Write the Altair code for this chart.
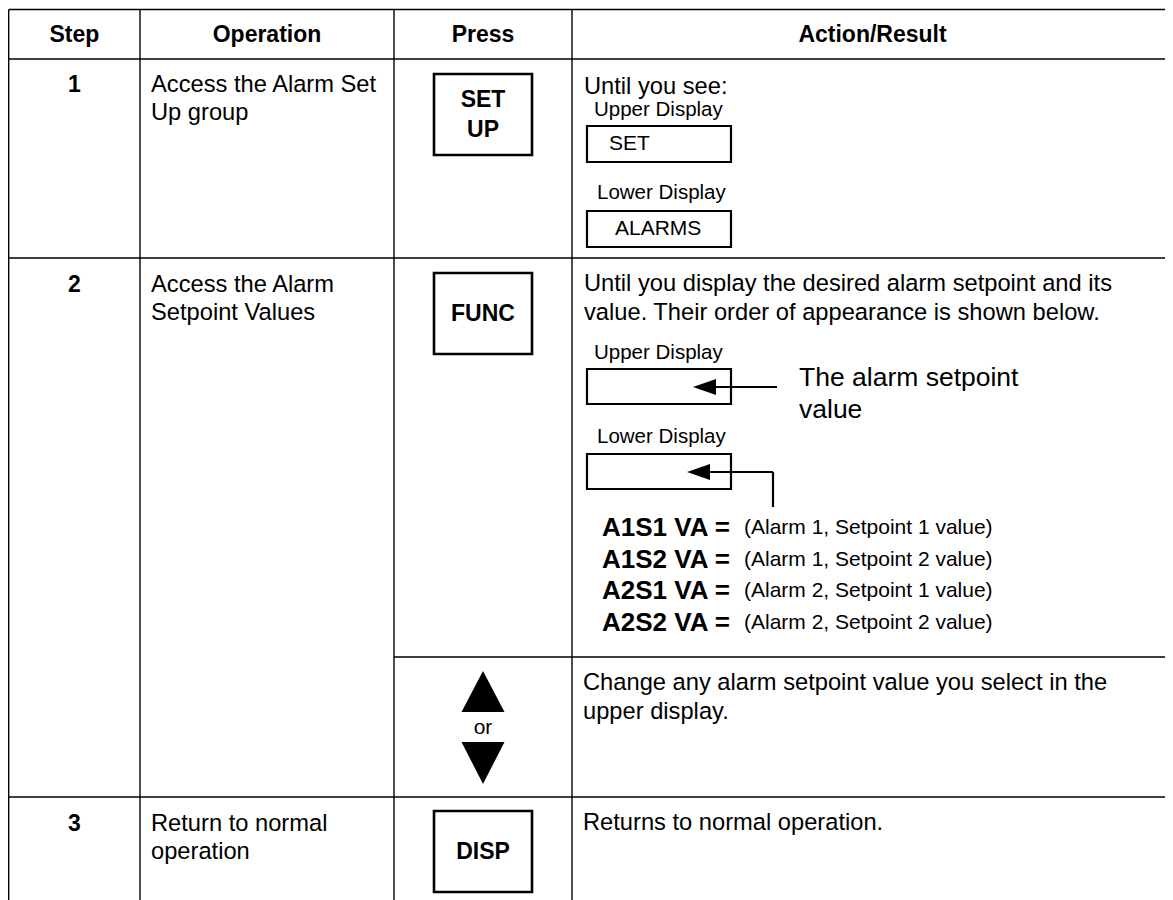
import altair as alt
import pandas as pd

# ---------------- content ----------------
HEADERS = ["Step", "Operation", "Press", "Action/Result"]
STEP_NUMBERS = ["1", "2", "3"]
OPERATIONS = [["Access the Alarm Set", "Up group"],
              ["Access the Alarm", "Setpoint Values"],
              ["Return to normal", "operation"]]
KEY_LABELS = [["SET", "UP"], ["FUNC"], ["DISP"]]
ROW1_ACTION = ["Until you see:"]
DISPLAY_LABELS = ["Upper Display", "Lower Display"]
ROW1_DISPLAY_VALUES = ["SET", "ALARMS"]
ROW2_ACTION = ["Until you display the desired alarm setpoint and its",
               "value. Their order of appearance is shown below."]
CALLOUT = ["The alarm setpoint", "value"]
ALARM_CODES = ["A1S1 VA =", "A1S2 VA =", "A2S1 VA =", "A2S2 VA ="]
ALARM_DESCRIPTIONS = ["(Alarm 1, Setpoint 1 value)", "(Alarm 1, Setpoint 2 value)",
                      "(Alarm 2, Setpoint 1 value)", "(Alarm 2, Setpoint 2 value)"]
ARROW_WORD = ["or"]
ROW2B_ACTION = ["Change any alarm setpoint value you select in the", "upper display."]
ROW3_ACTION = ["Returns to normal operation."]

# ---------------- layout (page pixels) ----------------
W, H = 1157, 892
LEFT, TOP = 8, 8
COL_EDGES = [8.7, 140, 394, 572, 1173]
ROW_EDGES = [9.5, 59, 258, 657, 797, 905]
FONT = "Liberation Sans"
BODY = 23.7

SX = alt.Scale(domain=[LEFT, LEFT + W], clamp=True, nice=False, zero=False)
SY = alt.Scale(domain=[TOP + H, TOP], clamp=True, nice=False, zero=False)


def enc_xy():
    return dict(x=alt.X("x:Q", scale=SX, axis=None), y=alt.Y("y:Q", scale=SY, axis=None))


def col_center(i):
    return (COL_EDGES[i] + COL_EDGES[i + 1]) / 2


# ---- table grid lines ----
lines = []
for y in [ROW_EDGES[0], ROW_EDGES[1], ROW_EDGES[2], ROW_EDGES[4]]:
    lines.append(dict(x=COL_EDGES[0], x2=COL_EDGES[4], y=y, y2=y))
lines.append(dict(x=COL_EDGES[2], x2=COL_EDGES[4], y=ROW_EDGES[3], y2=ROW_EDGES[3]))
for x in COL_EDGES[:4]:
    lines.append(dict(x=x, x2=x, y=ROW_EDGES[0], y2=ROW_EDGES[5]))
grid = alt.Chart(pd.DataFrame(lines)).mark_rule(color="black", strokeWidth=1.4).encode(
    **enc_xy(), x2="x2:Q", y2="y2:Q")

# ---- key buttons ----
kx0, kx1 = 434, 532
key_boxes = pd.DataFrame([
    dict(x=kx0, x2=kx1, y=74, y2=155),
    dict(x=kx0, x2=kx1, y=273, y2=354),
    dict(x=kx0, x2=kx1, y=811, y2=892),
])
keys = alt.Chart(key_boxes).mark_rect(fill="white", stroke="black", strokeWidth=2.6).encode(
    **enc_xy(), x2="x2:Q", y2="y2:Q")

# ---- display boxes ----
dx0, dx1 = 587, 731
disp_boxes = pd.DataFrame([
    dict(x=dx0, x2=dx1, y=126, y2=162),
    dict(x=dx0, x2=dx1, y=211, y2=247),
    dict(x=dx0, x2=dx1, y=369, y2=404),
    dict(x=dx0, x2=dx1, y=454, y2=489),
])
displays = alt.Chart(disp_boxes).mark_rect(fill="white", stroke="black", strokeWidth=2.2).encode(
    **enc_xy(), x2="x2:Q", y2="y2:Q")

# ---- pointer lines ----
pointer = pd.DataFrame([
    dict(x=700, x2=777, y=387, y2=387),
    dict(x=694, x2=773, y=472, y2=472),
    dict(x=773, x2=773, y=472, y2=507),
])
pointers = alt.Chart(pointer).mark_rule(color="black", strokeWidth=2.2).encode(
    **enc_xy(), x2="x2:Q", y2="y2:Q")

heads = alt.Chart(pd.DataFrame([dict(x=704.5, y=387), dict(x=698.5, y=472)])).mark_point(
    shape="M-1,0L1,-0.7L1,0.7Z", size=529, filled=True, color="black", opacity=1, strokeWidth=0
).encode(**enc_xy())

up_tri = alt.Chart(pd.DataFrame([dict(x=col_center(2), y=691.5)])).mark_point(
    shape="M-1,0.953L1,0.953L0,-0.953Z", size=1849, filled=True, color="black", opacity=1, strokeWidth=0
).encode(**enc_xy())
down_tri = alt.Chart(pd.DataFrame([dict(x=col_center(2), y=763)])).mark_point(
    shape="M-1,-0.977L1,-0.977L0,0.977Z", size=1849, filled=True, color="black", opacity=1, strokeWidth=0
).encode(**enc_xy())

# ---- texts ----
bold_center, bold_left, reg_left, reg_center = [], [], [], []

for i, h in enumerate(HEADERS):
    bold_center.append(dict(x=col_center(i), y=35, text=h, size=23))

step_y = [85, 285, 824]
for s, y in zip(STEP_NUMBERS, step_y):
    bold_center.append(dict(x=col_center(0), y=y, text=s, size=23))
for lines_, y in zip(OPERATIONS, step_y):
    for j, t in enumerate(lines_):
        reg_left.append(dict(x=151, y=y + 27.5 * j, text=t, size=BODY))

key_y = [[100, 130], [314], [852]]
for labs, ys in zip(KEY_LABELS, key_y):
    for t, y in zip(labs, ys):
        bold_center.append(dict(x=col_center(2), y=y, text=t, size=23))

reg_left.append(dict(x=584, y=87, text=ROW1_ACTION[0], size=BODY))
reg_left.append(dict(x=594, y=110, text=DISPLAY_LABELS[0], size=20.5))
reg_left.append(dict(x=597, y=193, text=DISPLAY_LABELS[1], size=20.5))
reg_left.append(dict(x=609, y=144, text=ROW1_DISPLAY_VALUES[0], size=21))
reg_left.append(dict(x=615, y=229, text=ROW1_DISPLAY_VALUES[1], size=21))

for j, t in enumerate(ROW2_ACTION):
    reg_left.append(dict(x=584, y=284 + 29 * j, text=t, size=BODY))
reg_left.append(dict(x=594, y=353, text=DISPLAY_LABELS[0], size=20.5))
reg_left.append(dict(x=597, y=437, text=DISPLAY_LABELS[1], size=20.5))
for j, t in enumerate(CALLOUT):
    reg_left.append(dict(x=799, y=378 + 32 * j, text=t, size=26.5))

for j, (c, d) in enumerate(zip(ALARM_CODES, ALARM_DESCRIPTIONS)):
    y = 528 + 31.7 * j
    bold_left.append(dict(x=602, y=y, text=c, size=26))
    reg_left.append(dict(x=744, y=y, text=d, size=21))

reg_center.append(dict(x=col_center(2), y=728, text=ARROW_WORD[0], size=21))
for j, t in enumerate(ROW2B_ACTION):
    reg_left.append(dict(x=583, y=683 + 29 * j, text=t, size=BODY))
reg_left.append(dict(x=583, y=823, text=ROW3_ACTION[0], size=BODY))


def text_layer(rows, align, weight):
    return alt.Chart(pd.DataFrame(rows)).mark_text(
        align=align, baseline="middle", font=FONT, fontWeight=weight, color="black"
    ).encode(**enc_xy(), text="text:N", size=alt.Size("size:Q", scale=None, legend=None))


chart = alt.layer(
    grid, keys, displays, pointers, heads, up_tri, down_tri,
    text_layer(bold_center, "center", "bold"),
    text_layer(bold_left, "left", "bold"),
    text_layer(reg_left, "left", "normal"),
    text_layer(reg_center, "center", "normal"),
).properties(width=W, height=H, padding=0, autosize="none", background="white"
).configure_view(strokeWidth=0)

chart.save("out.html", embed_options={"renderer": "svg", "actions": False})
